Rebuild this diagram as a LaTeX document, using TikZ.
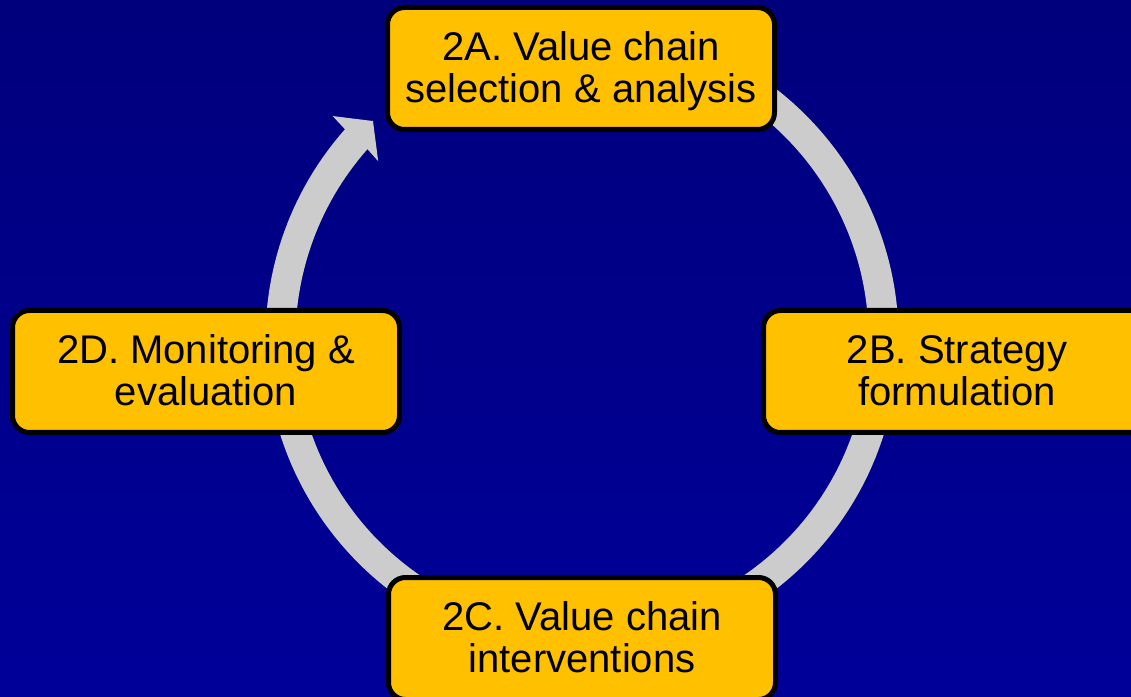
\documentclass[tikz,border=0pt]{standalone}
\usepackage{fontspec}
\setmainfont{Liberation Sans}
\usetikzlibrary{calc}
\definecolor{bgtop}{RGB}{0,0,124}
\definecolor{bgbot}{RGB}{0,0,153}
\definecolor{boxfill}{RGB}{255,192,0}
\definecolor{ringgray}{RGB}{204,204,204}
\tikzset{
  stagebox/.style={draw=black, line width=5pt, fill=boxfill, rounded corners=17pt,
    minimum width=387pt, minimum height=122pt, inner sep=0pt},
  stagetext/.style={align=center, text=black, inner sep=0pt, yshift=-4.8pt,
    font=\fontsize{40}{41}\selectfont},
  ring/.style={draw=ringgray, line width=30pt, line cap=butt},
  ringhead/.style={fill=ringgray}
}
\begin{document}
\begin{tikzpicture}[x=1pt,y=1pt]
\useasboundingbox (0,0) rectangle (1131,696);
\clip (0,0) rectangle (1131,696);
\shade[top color=bgtop, bottom color=bgbot] (0,0) rectangle (1131,696);
% cycle ring
\coordinate (c) at (582,357);
\draw[ring] ($(c)+(80:301.5)$) arc[start angle=80, end angle=-221.7, radius=301.5];
\fill[ringhead] ($(c)+(138.5:316.5)$) -- ($(c)+(138.2:334.5)$) -- ($(c)+(133.8:302)$)
  -- ($(c)+(138.9:270.5)$) -- ($(c)+(138.5:286.5)$) -- cycle;
% stages
\node[stagebox] (a) at (581,627.5) {};
\node[stagetext] (at) at (a.center) {2A. Value chain\strut\\selection \& analysis\strut};
\node[stagebox] (b) at (957,324.5) {};
\node[stagetext] (bt) at (b.center) {2B. Strategy\strut\\formulation\strut};
\node[stagebox] (cc) at (582,57.5) {};
\node[stagetext] (ct) at (cc.center) {2C. Value chain\strut\\interventions\strut};
\node[stagebox] (d) at (206,324.5) {};
\node[stagetext] (dt) at (d.center) {2D. Monitoring \&\strut\\evaluation\strut};
\end{tikzpicture}
\end{document}
